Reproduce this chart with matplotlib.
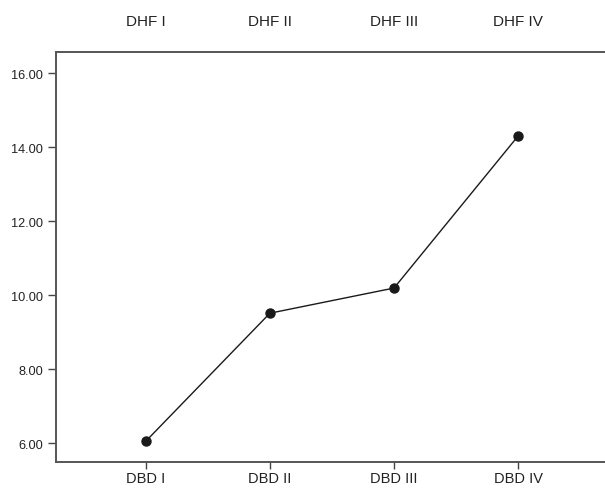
import matplotlib
matplotlib.use("Agg")
import matplotlib.pyplot as plt
import matplotlib.transforms as mtransforms

categories = ["DBD I", "DBD II", "DBD III", "DBD IV"]
top_labels = ["DHF I", "DHF II", "DHF III", "DHF IV"]
values = [6.05, 9.51, 10.19, 14.30]
yticks = [6, 8, 10, 12, 14, 16]

plt.rcParams['font.family'] = ['Liberation Sans', 'DejaVu Sans']

fig = plt.figure(figsize=(6.05, 4.89), dpi=100)
W, H = 605, 489
left, right, top, bottom = 55.7, 605, 53, 463.3
ax = fig.add_axes([left / W, 1 - bottom / H, (right - left) / W, (bottom - top) / H])

x = list(range(len(categories)))
ax.plot(x, values, color='#1a1a1a', lw=1.0, marker='o', markersize=6.5,
        markerfacecolor='#1a1a1a', markeredgecolor='#1a1a1a')

ax.set_xlim(-0.726, 3.70)
ax.set_ylim(5.48, 16.57)
ax.set_xticks(x)
ax.set_xticklabels(categories, fontsize=10.5, color='#222222')
ax.set_yticks(yticks)
ax.set_yticklabels([f"{v:.2f}" for v in yticks], fontsize=9.2, color='#222222')

for side in ['left', 'bottom', 'top']:
    ax.spines[side].set_color('#555555')
    ax.spines[side].set_linewidth(1.4)
ax.spines['right'].set_visible(False)
ax.tick_params(axis='y', length=6, width=1, color='#444444', pad=3)
ax.tick_params(axis='x', length=5, width=1, color='#444444', pad=1)

trans = mtransforms.blended_transform_factory(ax.transData, ax.transAxes)
for xi, lab in zip(x, top_labels):
    ax.text(xi, 1 + 31 / (bottom - top), lab, transform=trans, ha='center', va='center',
            fontsize=11, color='#222222')

fig.savefig("out.png", dpi=100)
